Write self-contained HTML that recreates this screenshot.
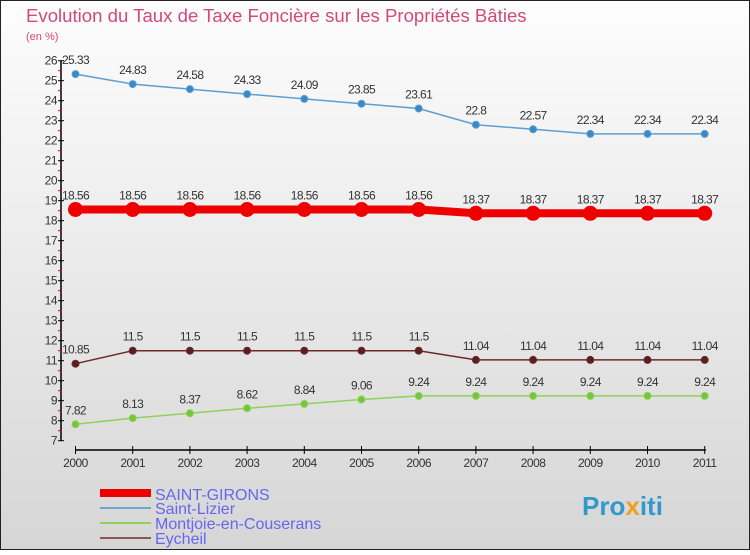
<!DOCTYPE html>
<html><head><meta charset="utf-8"><style>
body{margin:0;width:750px;height:550px;overflow:hidden;font-family:"Liberation Sans",sans-serif}
svg text{font-family:"Liberation Sans",sans-serif}
</style></head><body>
<svg id="c" width="750" height="550">
<defs><linearGradient id="bg" x1="0" y1="0" x2="0" y2="1"><stop offset="0" stop-color="#fdfdfd"/><stop offset="1" stop-color="#d6d6d6"/></linearGradient></defs>
<rect x="0.5" y="0.5" width="749" height="549" fill="url(#bg)" stroke="#222"/>
<text x="26" y="22" font-size="18.6" fill="#d2497a">Evolution du Taux de Taxe Foncière sur les Propriétés Bâties</text>
<text x="26" y="40" font-size="11" fill="#d2497a">(en %)</text>
<g id="axes"></g><g id="series"></g>
<g>
<rect x="100" y="489" width="51" height="8" fill="#e00"/>
<text x="155" y="500" font-size="16" fill="#6666ee">SAINT-GIRONS</text>
<line x1="100" y1="508" x2="151" y2="508" stroke="#6fa6cc" stroke-width="2"/>
<text x="155" y="514" font-size="16" fill="#6666ee">Saint-Lizier</text>
<line x1="100" y1="523" x2="151" y2="523" stroke="#8ed25a" stroke-width="2"/>
<text x="155" y="529" font-size="16" fill="#6666ee">Montjoie-en-Couserans</text>
<line x1="100" y1="538" x2="151" y2="538" stroke="#8a5555" stroke-width="2"/>
<text x="155" y="544" font-size="16" fill="#6666ee">Eycheil</text>
</g>
<text x="582" y="515" font-size="26" font-weight="bold" fill="#3399cc">Pro<tspan fill="#f0a020">x</tspan>iti</text>
</svg>
<script>
const years=[2000,2001,2002,2003,2004,2005,2006,2007,2008,2009,2010,2011];
const saintGirons=[18.56,18.56,18.56,18.56,18.56,18.56,18.56,18.37,18.37,18.37,18.37,18.37];
const saintLizier=[25.33,24.83,24.58,24.33,24.09,23.85,23.61,22.8,22.57,22.34,22.34,22.34];
const montjoie=[7.82,8.13,8.37,8.62,8.84,9.06,9.24,9.24,9.24,9.24,9.24,9.24];
const eycheil=[10.85,11.5,11.5,11.5,11.5,11.5,11.5,11.04,11.04,11.04,11.04,11.04];
const yTicks=[7,8,9,10,11,12,13,14,15,16,17,18,19,20,21,22,23,24,25,26];
const NS="http://www.w3.org/2000/svg";
const X=i=>75.5+i*57.2;
const Y=v=>60.7+(26-v)*20.0;
function mk(tag,attrs,parent,txt){const e=document.createElementNS(NS,tag);for(const k in attrs)e.setAttribute(k,attrs[k]);if(txt!==undefined)e.textContent=txt;parent.appendChild(e);return e;}
const ax=document.getElementById('axes');
let e=mk('line',{x1:61,y1:Y(26),x2:61,y2:Y(7),stroke:'#000','stroke-width':1.5},ax);


e=mk('line',{x1:75,y1:450,x2:706,y2:450,stroke:'#000','stroke-width':1.5},ax);


yTicks.forEach(t=>{
 mk('line',{x1:58,y1:Y(t),x2:64,y2:Y(t),stroke:'#000'},ax);
 if(t<26)mk('line',{x1:58,y1:Y(t+0.5),x2:61,y2:Y(t+0.5),stroke:'#e00'},ax);
 const tx=mk('text',{x:57,y:Y(t)+4,'font-size':12,fill:'#333','text-anchor':'end','letter-spacing':'-0.5'},ax,t);
 
 
});
years.forEach((y,i)=>{
 mk('line',{x1:X(i),y1:446,x2:X(i),y2:454,stroke:'#000'},ax);
 const tx=mk('text',{x:X(i),y:467,'font-size':12,fill:'#333','text-anchor':'middle','letter-spacing':'-0.5'},ax,y);
 
 
});
const sg=document.getElementById('series');
function series(vals,color,w,r,name,dot){
 const g=mk('g',{},sg);
 
 
 mk('polyline',{points:vals.map((v,i)=>X(i)+','+Y(v)).join(' '),fill:'none',stroke:color,'stroke-width':w},g);
 vals.forEach((v,i)=>{
  const c=mk('circle',{cx:X(i),cy:Y(v),r:r,fill:dot,stroke:color,'stroke-width':1},g);
  
  
  const t=mk('text',{x:X(i),y:Y(v)-10,'font-size':12,fill:'#333','text-anchor':'middle','letter-spacing':'-0.6'},g,v);
  
  
 });
}
series(saintLizier,'#5c9fd0',1.5,3.5,'saint-lizier-line','#3a88c4');
series(montjoie,'#8ed25a',1.5,3.5,'montjoie-line','#78c43a');
series(eycheil,'#6a2a2a',1.5,3.5,'eycheil-line','#5a1f1f');
series(saintGirons,'#e00',8,7,'saint-girons-line','#e00');
</script>
</body></html>
